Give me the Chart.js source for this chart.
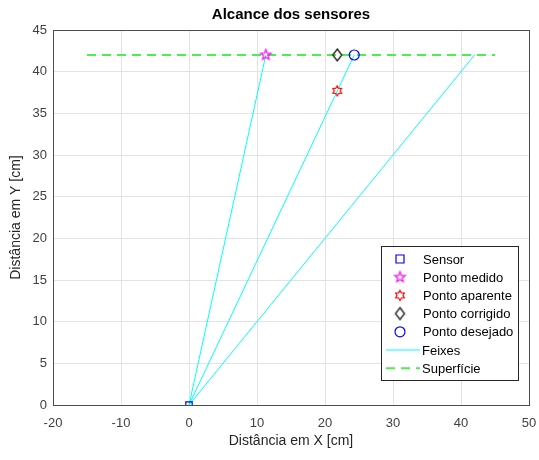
<!DOCTYPE html>
<html>
<head>
<meta charset="utf-8">
<title>Alcance dos sensores</title>
<script src="https://cdn.jsdelivr.net/npm/chart.js"></script>
<style>
  html, body { margin: 0; padding: 0; background: #fff; }
  #wrap { width: 539px; height: 460px; }
</style>
</head>
<body>
<div id="wrap"><canvas id="alcance" width="539" height="460"></canvas></div>
<script>
// valores
const xTicks = [-20, -10, 0, 10, 20, 30, 40, 50];
const yTicks = [0, 5, 10, 15, 20, 25, 30, 35, 40, 45];
const sensor = [[0, 0]];
const pontoMedido = [[11.3, 42]];
const pontoAparente = [[21.8, 37.7]];
const pontoCorrigido = [[21.8, 42]];
const pontoDesejado = [[24.3, 42]];
const feixesFim = [[11.3, 42], [24.3, 42], [42, 42]];
const superficieX = [-15, 45];
const superficieY = 42;

const toXY = arr => arr.map(p => ({ x: p[0], y: p[1] }));

// estrelas tipo matlab (pentagrama / hexagrama) e losango
function starCanvas(n, rOut, rIn, color) {
  const s = Math.ceil(rOut * 2 + 4);
  const c = document.createElement('canvas');
  c.width = s; c.height = s;
  const g = c.getContext('2d');
  g.strokeStyle = color;
  g.lineWidth = 1.2;
  g.beginPath();
  for (let i = 0; i < n * 2; i++) {
    const r = i % 2 === 0 ? rOut : rIn;
    const a = -Math.PI / 2 + i * Math.PI / n;
    const px = s / 2 + r * Math.cos(a), py = s / 2 + r * Math.sin(a);
    if (i === 0) g.moveTo(px, py); else g.lineTo(px, py);
  }
  g.closePath();
  g.stroke();
  return c;
}
function diamondCanvas(w, h, color) {
  const c = document.createElement('canvas');
  c.width = w + 4; c.height = h + 4;
  const g = c.getContext('2d');
  g.strokeStyle = color;
  g.lineWidth = 1.3;
  g.beginPath();
  g.moveTo(c.width / 2, 2); g.lineTo(c.width - 2, c.height / 2);
  g.lineTo(c.width / 2, c.height - 2); g.lineTo(2, c.height / 2);
  g.closePath();
  g.stroke();
  return c;
}
const pentagram = starCanvas(5, 5.5, 2.3, '#ff00ff');
const hexagram = starCanvas(6, 5, 2.9, '#ff0000');
const diamond = diamondCanvas(9, 12, '#1a1a1a');

const markerSets = [
  { label: 'Sensor', data: toXY(sensor), pointStyle: 'rect', radius: 4.5, color: '#0000ff' },
  { label: 'Ponto medido', data: toXY(pontoMedido), pointStyle: pentagram, radius: 5, color: '#ff00ff' },
  { label: 'Ponto aparente', data: toXY(pontoAparente), pointStyle: hexagram, radius: 5, color: '#ff0000' },
  { label: 'Ponto corrigido', data: toXY(pontoCorrigido), pointStyle: diamond, radius: 6, color: '#1a1a1a' },
  { label: 'Ponto desejado', data: toXY(pontoDesejado), pointStyle: 'circle', radius: 5, color: '#0000ff' }
];

const datasets = markerSets.map(m => ({
  label: m.label,
  data: m.data,
  showLine: false,
  pointStyle: m.pointStyle,
  pointRadius: m.radius,
  pointBorderColor: m.color,
  pointBackgroundColor: 'rgba(0,0,0,0)',
  pointBorderWidth: 1.2
}));

feixesFim.forEach(p => {
  datasets.push({
    label: 'Feixes',
    data: toXY([[0, 0], p]),
    showLine: true,
    borderColor: '#00ffff',
    borderWidth: 1,
    pointRadius: 0
  });
});

datasets.push({
  label: 'Superfície',
  data: superficieX.map(x => ({ x: x, y: superficieY })),
  showLine: true,
  borderColor: '#4cf04c',
  borderWidth: 2,
  borderDash: [9, 6],
  pointRadius: 0
});

const legendItems = [
  ...markerSets.map(m => ({ label: m.label, kind: 'marker', style: m.pointStyle, color: m.color, radius: m.radius })),
  { label: 'Feixes', kind: 'line', color: '#00ffff', width: 1, dash: [] },
  { label: 'Superfície', kind: 'line', color: '#4cf04c', width: 2, dash: [9, 6] }
];

const matlabLook = {
  id: 'matlabLook',
  afterDraw(chart) {
    const ctx = chart.ctx;
    const a = chart.chartArea;
    ctx.save();
    // caixa dos eixos
    ctx.strokeStyle = '#4d4d4d';
    ctx.lineWidth = 1;
    ctx.strokeRect(a.left + 0.5, a.top + 0.5, a.right - a.left, a.bottom - a.top);
    // titulo
    ctx.fillStyle = '#000';
    ctx.font = 'bold 15px "Liberation Sans", Arial, sans-serif';
    ctx.textAlign = 'center';
    ctx.textBaseline = 'middle';
    ctx.fillText('Alcance dos sensores', (a.left + a.right) / 2, 15);
    // legenda
    const lx = 381, ly = 246, lw = 137, lh = 134, row = 18.2;
    ctx.fillStyle = '#fff';
    ctx.fillRect(lx, ly, lw, lh);
    ctx.strokeStyle = '#262626';
    ctx.strokeRect(lx + 0.5, ly + 0.5, lw, lh);
    ctx.font = '13px "Liberation Sans", Arial, sans-serif';
    ctx.textAlign = 'left';
    legendItems.forEach((it, i) => {
      const cy = ly + 13 + i * row;
      if (it.kind === 'marker') {
        if (typeof it.style !== 'string') {
          ctx.drawImage(it.style, 400 - it.style.width / 2, cy - it.style.height / 2);
        } else {
          ctx.strokeStyle = it.color;
          ctx.lineWidth = 1.2;
          ctx.beginPath();
          if (it.style === 'rect') ctx.rect(400 - 4, cy - 4, 8, 8);
          else ctx.arc(400, cy, 5, 0, Math.PI * 2);
          ctx.stroke();
        }
      } else {
        ctx.strokeStyle = it.color;
        ctx.lineWidth = it.width;
        ctx.setLineDash(it.dash);
        ctx.beginPath();
        ctx.moveTo(386, cy); ctx.lineTo(420, cy);
        ctx.stroke();
        ctx.setLineDash([]);
      }
      ctx.fillStyle = '#000';
      ctx.fillText(it.label, it.kind === 'marker' ? 423 : 422, cy + 1);
    });
    ctx.restore();
  }
};

new Chart(document.getElementById('alcance'), {
  type: 'scatter',
  data: { datasets: datasets },
  options: {
    responsive: false,
    animation: false,
    layout: { padding: { top: 30, right: 10, left: 0, bottom: 0 } },
    plugins: {
      legend: { display: false },
      tooltip: { enabled: false },
      title: { display: false }
    },
    scales: {
      x: {
        type: 'linear',
        min: xTicks[0],
        max: xTicks[xTicks.length - 1],
        afterBuildTicks: s => { s.ticks = xTicks.map(v => ({ value: v })); },
        afterFit: s => { s.height = 55; s.paddingLeft = 0; s.paddingRight = 0; },
        grid: { color: '#e3e3e3', drawTicks: false },
        border: { display: false },
        ticks: { color: '#404040', padding: 11, font: { size: 13, family: '"Liberation Sans", Arial, sans-serif' } },
        title: { display: true, text: 'Distância em X [cm]', color: '#262626', padding: { top: 4, bottom: 10 }, font: { size: 14, family: '"Liberation Sans", Arial, sans-serif' } }
      },
      y: {
        type: 'linear',
        min: yTicks[0],
        max: yTicks[yTicks.length - 1],
        afterBuildTicks: s => { s.ticks = yTicks.map(v => ({ value: v })); },
        afterFit: s => { s.width = 53; s.paddingTop = 0; s.paddingBottom = 0; },
        grid: { color: '#e3e3e3', drawTicks: false },
        border: { display: false },
        ticks: { color: '#404040', padding: 6, font: { size: 13, family: '"Liberation Sans", Arial, sans-serif' } },
        title: { display: true, text: 'Distância em Y [cm]', color: '#262626', padding: { top: 8, bottom: 2 }, font: { size: 14, family: '"Liberation Sans", Arial, sans-serif' } }
      }
    }
  },
  plugins: [matlabLook]
});
</script>
</body>
</html>
